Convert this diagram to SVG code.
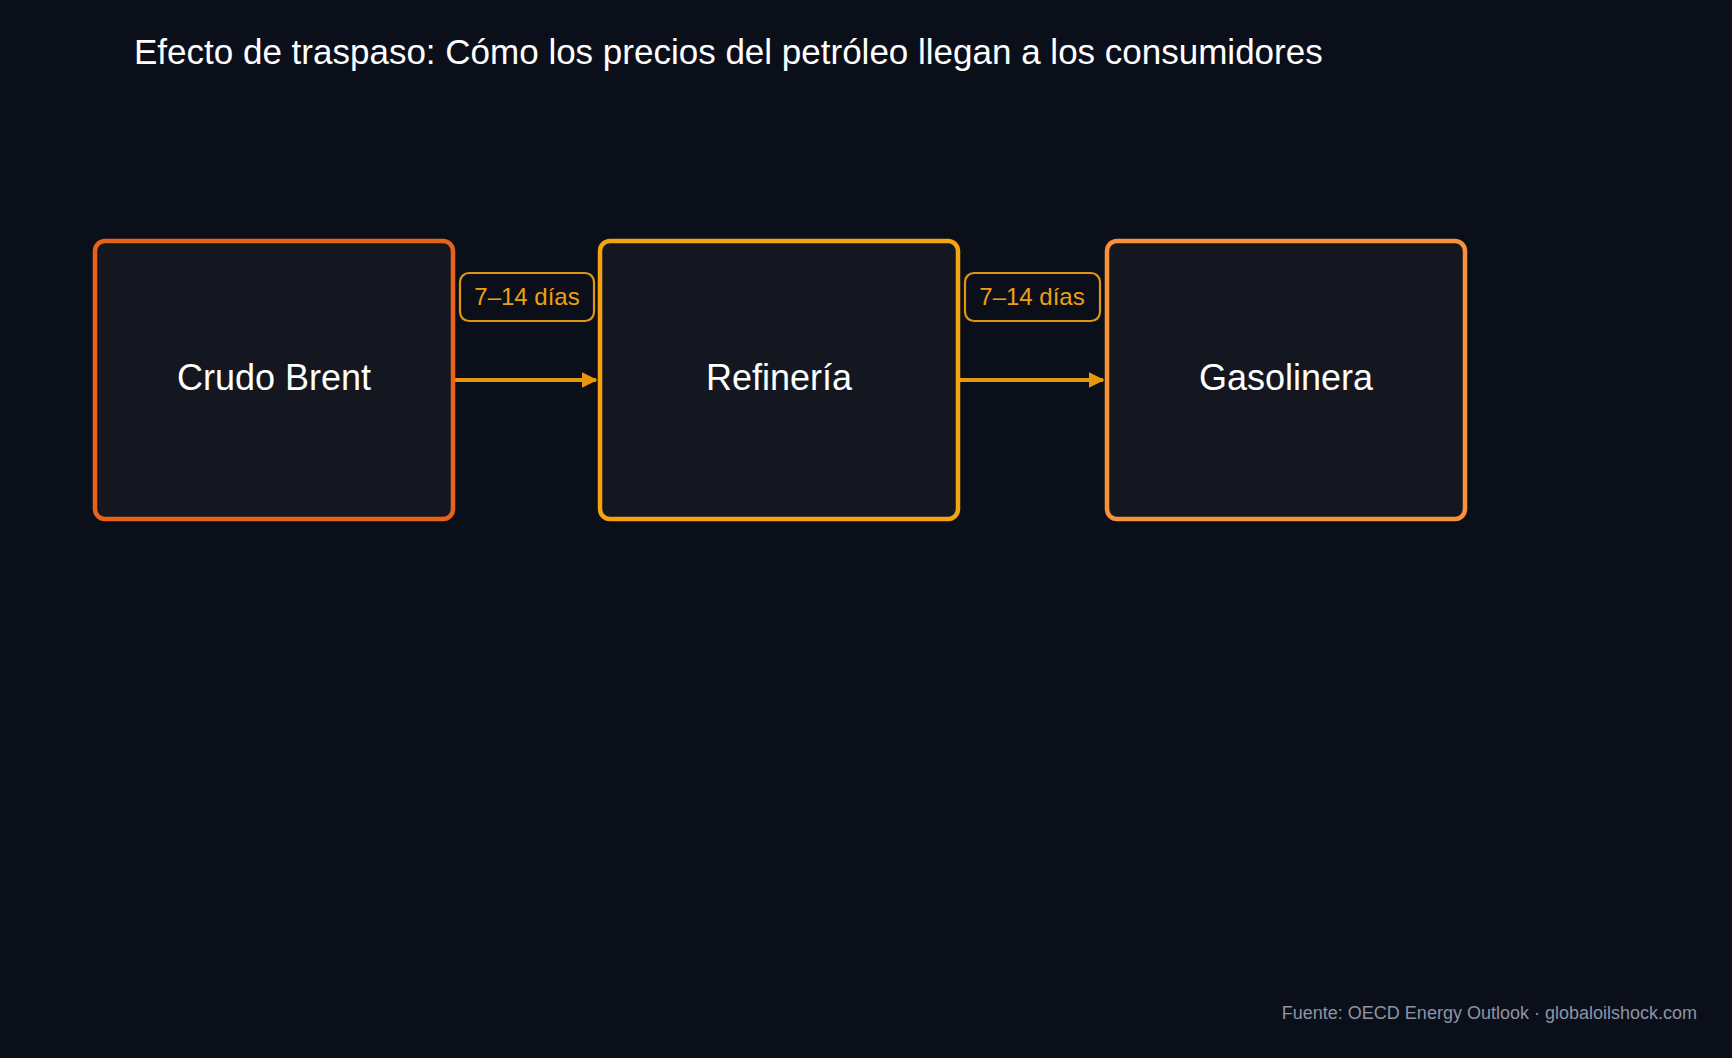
<svg xmlns="http://www.w3.org/2000/svg" width="1732" height="1058" viewBox="0 0 1732 1058">
<style>
text{font-family:"Liberation Sans",Arial,sans-serif}
.node{fill:#14171f;stroke-width:4.5}
.nt{fill:#ffffff;font-size:36px;text-anchor:middle}
.lb{fill:#0b0f19;stroke:#e0960f;stroke-width:2.2}
.lt{fill:#eda012;font-size:24px;text-anchor:middle}
.conn{stroke:#e8960a;stroke-width:4;fill:none}
</style>
<defs><marker id="ah" viewBox="0 0 10 10" refX="9" refY="5" markerWidth="4" markerHeight="4" orient="auto"><path d="M0,0L10,5L0,10z" fill="#e8960a"/></marker></defs>
<rect width="1732" height="1058" fill="#0b0f1a"/>
<text x="134" y="64" fill="#ffffff" font-size="35">Efecto de traspaso: Cómo los precios del petróleo llegan a los consumidores</text>
<g id="connectors">
<line class="conn" x1="453" y1="380" x2="596" y2="380" marker-end="url(#ah)"/>
<line class="conn" x1="958" y1="380" x2="1103" y2="380" marker-end="url(#ah)"/>
<g id="label1"><rect class="lb" x="460" y="273" width="134" height="48" rx="9"/><text class="lt" x="527" y="305">7–14 días</text></g>
<g id="label2"><rect class="lb" x="965" y="273" width="135" height="48" rx="9"/><text class="lt" x="1032" y="305">7–14 días</text></g>
</g>
<g id="crudo"><rect class="node" x="95" y="241" width="358" height="278" rx="10" stroke="#e8621a"/><text class="nt" x="274" y="390">Crudo Brent</text></g>
<g id="refineria"><rect class="node" x="600" y="241" width="358" height="278" rx="10" stroke="#f5a30f"/><text class="nt" x="779" y="390">Refinería</text></g>
<g id="gasolinera"><rect class="node" x="1107" y="241" width="358" height="278" rx="10" stroke="#f7923a"/><text class="nt" x="1286" y="390">Gasolinera</text></g>
<text x="1697" y="1019" fill="#8b95a5" font-size="18" text-anchor="end">Fuente: OECD Energy Outlook · globaloilshock.com</text>
</svg>
